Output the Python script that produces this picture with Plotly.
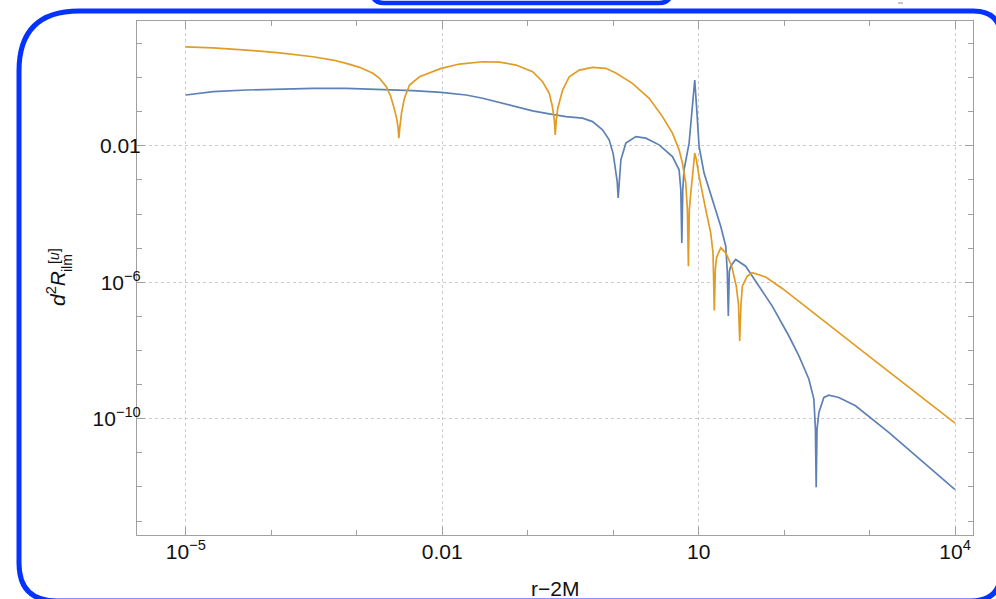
import plotly.graph_objects as go

# ---------------- data (log10 of the plotted values) ----------------
# blue series: log10(r-2M) and log10(d^2 R)
blue_log_r = [-5.000, -4.681, -4.291, -3.902, -3.513, -3.123, -2.734, -2.345, -2.013, -1.721,
              -1.527, -1.332, -1.137, -0.943, -0.748, -0.553, -0.359, -0.242, -0.125, -0.047,
              0.000, 0.031, 0.047, 0.058, 0.070, 0.090, 0.148, 0.265, 0.382, 0.537,
              0.693, 0.771, 0.791, 0.803, 0.814, 0.829, 0.888, 0.926, 0.954, 0.978,
              1.005, 1.063, 1.160, 1.258, 1.317, 1.335, 1.347, 1.359, 1.375, 1.433,
              1.550, 1.706, 1.861, 2.056, 2.173, 2.290, 2.348, 2.366, 2.375, 2.385,
              2.407, 2.465, 2.523, 2.640, 2.835, 3.224, 3.613, 4.000]
blue_log_val = [-0.509, -0.412, -0.363, -0.333, -0.313, -0.313, -0.342, -0.383, -0.430, -0.509,
                -0.605, -0.722, -0.851, -0.977, -1.064, -1.143, -1.190, -1.289, -1.532, -1.825,
                -2.234, -2.702, -3.053, -3.529, -3.053, -2.409, -1.921, -1.728, -1.775, -1.971,
                -2.313, -2.702, -3.287, -4.845, -3.287, -2.702, -1.921, -0.947, -0.070, -0.947,
                -2.020, -2.798, -3.579, -4.360, -4.944, -5.684, -6.991, -5.684, -5.529, -5.333,
                -5.529, -6.114, -6.699, -7.576, -8.161, -8.842, -9.427, -10.304, -12.009, -10.304,
                -9.816, -9.377, -9.310, -9.377, -9.623, -10.401, -11.231, -12.079]

# orange series
orange_log_r = [-5.000, -4.681, -4.291, -3.902, -3.513, -3.279, -3.123, -2.967, -2.812, -2.734,
                -2.655, -2.605, -2.564, -2.535, -2.518, -2.508, -2.496, -2.477, -2.442, -2.383,
                -2.266, -2.013, -1.799, -1.527, -1.332, -1.137, -0.943, -0.826, -0.748, -0.713,
                -0.689, -0.678, -0.666, -0.648, -0.592, -0.514, -0.397, -0.242, -0.085, 0.031,
                0.225, 0.421, 0.576, 0.693, 0.771, 0.810, 0.849, 0.868, 0.880, 0.891,
                0.908, 0.935, 0.954, 0.973, 1.005, 1.083, 1.141, 1.168, 1.183, 1.195,
                1.209, 1.258, 1.317, 1.387, 1.440, 1.466, 1.480, 1.495, 1.511, 1.569,
                1.627, 1.784, 1.978, 2.173, 2.445, 3.029, 4.000]
orange_log_val = [0.904, 0.874, 0.807, 0.728, 0.611, 0.515, 0.418, 0.301, 0.126, -0.020,
                  -0.266, -0.538, -0.889, -1.181, -1.444, -1.775, -1.444, -1.035, -0.596, -0.216,
                  0.026, 0.272, 0.398, 0.465, 0.456, 0.368, 0.173, -0.120, -0.459, -0.830,
                  -1.240, -1.678, -1.240, -0.889, -0.363, 0.026, 0.222, 0.301, 0.272, 0.135,
                  -0.167, -0.605, -1.143, -1.629, -2.117, -2.506, -3.091, -3.871, -5.529, -3.871,
                  -3.383, -2.605, -2.213, -2.409, -2.898, -3.871, -4.553, -5.137, -6.825, -5.626,
                  -5.275, -4.991, -5.137, -5.529, -6.114, -6.649, -7.722, -6.649, -6.114, -5.822,
                  -5.722, -5.845, -6.181, -6.561, -7.102, -8.237, -10.129]

x_tick_vals = [1e-5, 1e-2, 1e1, 1e4]
x_tick_text = ["10<sup>\u22125</sup>", "0.01", "10", "10<sup>4</sup>"]
x_minor_vals = [1e-4, 1e-3, 1e-1, 1e0, 1e2, 1e3]
y_tick_vals = [1e-2, 1e-6, 1e-10]
y_tick_text = ["0.01", "10<sup>\u22126</sup>", "10<sup>\u221210</sup>"]
y_minor_vals = [1e-13, 1e-12, 1e-11, 1e-9, 1e-8, 1e-7, 1e-5, 1e-4, 1e-3, 1e-1, 1e0, 1e1]

blue_r = [10 ** v for v in blue_log_r]
blue_val = [10 ** v for v in blue_log_val]
orange_r = [10 ** v for v in orange_log_r]
orange_val = [10 ** v for v in orange_log_val]

# ---------------- layout geometry ----------------
W, H = 996, 599
ML, MR, MT, MB = 137, 23, 21, 64
PW, PH = W - ML - MR, H - MT - MB


def px(x):
    return (x - ML) / PW


def py(y):
    return (H - MB - y) / PH


BLUE = "#5E81B5"
ORANGE = "#E19C24"
FRAME = "#0433ff"
FONT = "Liberation Sans, Arial, sans-serif"
TXT = "#111111"

fig = go.Figure()
fig.add_trace(go.Scatter(x=blue_r, y=blue_val, mode="lines",
                         line=dict(color=BLUE, width=1.7), showlegend=False))
fig.add_trace(go.Scatter(x=orange_r, y=orange_val, mode="lines",
                         line=dict(color=ORANGE, width=1.7), showlegend=False))

axis_common = dict(
    showline=True, linecolor="#a0a0a0", linewidth=1, mirror="ticks",
    ticks="inside", ticklen=8, tickcolor="#a0a0a0", tickwidth=1,
    showgrid=True, gridcolor="#cccccc", griddash="dot", gridwidth=1,
    zeroline=False,
    tickfont=dict(family=FONT, size=21, color=TXT),
)

fig.update_layout(
    width=W, height=H,
    margin=dict(l=ML, r=MR, t=MT, b=MB),
    paper_bgcolor="white", plot_bgcolor="white",
    xaxis=dict(type="log", range=[-5.572, 4.21], tickmode="array",
               tickvals=x_tick_vals, ticktext=x_tick_text, ticklabelstandoff=-2,
               minor=dict(tickmode="array", tickvals=x_minor_vals, ticks="inside",
                          ticklen=5, tickcolor="#a0a0a0", showgrid=False),
               **axis_common),
    yaxis=dict(type="log", range=[-13.41, 1.66], tickmode="array",
               tickvals=y_tick_vals, ticktext=y_tick_text, ticklabelstandoff=-9,
               minor=dict(tickmode="array", tickvals=y_minor_vals, ticks="inside",
                          ticklen=5, tickcolor="#a0a0a0", showgrid=False),
               **axis_common),
)

# x-axis title
fig.add_annotation(text="r\u22122M", xref="paper", yref="paper", x=px(555), y=py(588),
                   xanchor="center", yanchor="middle", showarrow=False,
                   font=dict(family=FONT, size=21, color=TXT))
# y-axis title pieces (stacked super/subscripts)
fig.add_annotation(text="<i>d</i><sup>2</sup><i>R</i>", xref="paper", yref="paper",
                   x=px(56), y=py(289), xanchor="center", yanchor="middle",
                   textangle=-90, showarrow=False,
                   font=dict(family=FONT, size=21, color=TXT))
fig.add_annotation(text="[<i>u</i>]", xref="paper", yref="paper",
                   x=px(54), y=py(256), xanchor="center", yanchor="middle",
                   textangle=-90, showarrow=False,
                   font=dict(family=FONT, size=14, color=TXT))
fig.add_annotation(text="ilm", xref="paper", yref="paper",
                   x=px(67), y=py(263), xanchor="center", yanchor="middle",
                   textangle=-90, showarrow=False,
                   font=dict(family=FONT, size=14, color=TXT))

# decorative blue rounded frames
L, T, R, B = 19, 11, 1001, 601
rtl, rtr, rbr, rbl = 60, 28, 30, 38
path_big = (
    f"M {px(L + rtl)} {py(T)} L {px(R - rtr)} {py(T)} Q {px(R)} {py(T)} {px(R)} {py(T + rtr)} "
    f"L {px(R)} {py(B - rbr)} Q {px(R)} {py(B)} {px(R - rbr)} {py(B)} "
    f"L {px(L + rbl)} {py(B)} Q {px(L)} {py(B)} {px(L)} {py(B - rbl)} "
    f"L {px(L)} {py(T + rtl)} Q {px(L)} {py(T)} {px(L + rtl)} {py(T)} Z"
)
fig.add_shape(type="path", path=path_big, xref="paper", yref="paper",
              line=dict(color=FRAME, width=5), fillcolor="rgba(0,0,0,0)", layer="above")

sL, sR, sB, rr = 372, 671, 3, 12
path_small = (
    f"M {px(sL)} {py(-30)} L {px(sL)} {py(sB - rr)} Q {px(sL)} {py(sB)} {px(sL + rr)} {py(sB)} "
    f"L {px(sR - rr)} {py(sB)} Q {px(sR)} {py(sB)} {px(sR)} {py(sB - rr)} L {px(sR)} {py(-30)}"
)
fig.add_shape(type="path", path=path_small, xref="paper", yref="paper",
              line=dict(color=FRAME, width=4.5), fillcolor="rgba(0,0,0,0)", layer="above")
fig.add_shape(type="line", xref="paper", yref="paper", x0=px(898), x1=px(903),
              y0=py(3), y1=py(3), line=dict(color="#888888", width=1))

fig.write_html("out.html", config={"displayModeBar": False},
               post_script="document.body.style.margin='0px';")
